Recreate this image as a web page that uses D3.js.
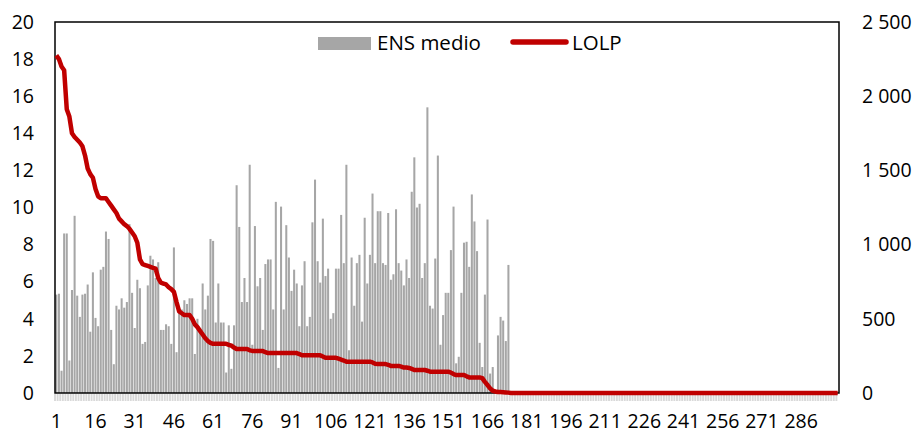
<!DOCTYPE html>
<html>
<head>
<meta charset="utf-8">
<script src="https://cdnjs.cloudflare.com/ajax/libs/d3/7.8.5/d3.min.js"></script>
<style>
  body { margin: 0; background: #fff; }
  text { font-family: "Open Sans", sans-serif; fill: #000; }
</style>
</head>
<body>
<div id="chart"></div>
<script>
// ENS medio (right axis), one value per case, sorted by LOLP
const ensMedio = [
  663, 669, 150, 1075, 1075, 219, 694, 1194, 656, 513,
  663, 669, 731, 413, 813, 506, 450, 831, 850, 1088,
  1038, 425, 194, 588, 563, 638, 575, 613, 1138, 675,
  438, 763, 706, 331, 344, 725, 925, 900, 775, 881,
  425, 425, 463, 450, 331, 981, 275, 550, 563, 625,
  600, 638, 638, 263, 500, 438, 738, 563, 656, 1038,
  1025, 475, 738, 475, 475, 138, 456, 163, 456, 1400,
  1119, 613, 775, 613, 1538, 325, 1125, 719, 775, 425,
  869, 900, 900, 563, 1288, 169, 1256, 563, 1131, 913,
  688, 831, 738, 450, 725, 888, 450, 513, 1150, 1438,
  888, 744, 1175, 788, 838, 500, 538, 838, 838, 1200,
  875, 1538, 288, 913, 588, 875, 931, 481, 1181, 738,
  931, 1344, 875, 1225, 1225, 875, 863, 1213, 763, 800,
  1238, 875, 825, 725, 900, 775, 1356, 1588, 1250, 1275,
  775, 875, 1925, 588, 569, 906, 1600, 325, 525, 675,
  675, 963, 1256, 200, 244, 675, 1013, 1019, 850, 1338,
  1156, 956, 338, 175, 663, 1169, 131, 175, 0, 388,
  513, 488, 350, 863,
  0, 0, 0, 0, 0, 0, 0, 0, 0, 0, 0, 0, 0, 0, 0, 0, 0, 0, 0, 0, 0,
  0, 0, 0, 0, 0, 0, 0, 0, 0, 0, 0, 0, 0, 0, 0, 0, 0, 0, 0, 0, 0,
  0, 0, 0, 0, 0, 0, 0, 0, 0, 0, 0, 0, 0, 0, 0, 0, 0, 0, 0, 0, 0,
  0, 0, 0, 0, 0, 0, 0, 0, 0, 0, 0, 0, 0, 0, 0, 0, 0, 0, 0, 0, 0,
  0, 0, 0, 0, 0, 0, 0, 0, 0, 0, 0, 0, 0, 0, 0, 0, 0, 0, 0, 0, 0,
  0, 0, 0, 0, 0, 0, 0, 0, 0, 0, 0, 0, 0, 0, 0, 0, 0, 0, 0, 0, 0
];

// LOLP (left axis)
const lolp = [
  18.2, 18.0, 17.6, 17.4, 15.3, 14.9, 14.0, 13.8, 13.65, 13.5,
  13.3, 12.8, 12.1, 11.8, 11.6, 11.0, 10.6, 10.5, 10.5, 10.5,
  10.3, 10.1, 9.9, 9.7, 9.4, 9.25, 9.1, 9.0, 8.85, 8.65,
  8.45, 8.1, 7.2, 6.95, 6.9, 6.85, 6.8, 6.75, 6.7, 6.2,
  5.95, 5.9, 5.85, 5.7, 5.6, 5.45, 4.9, 4.4, 4.3, 4.2,
  4.2, 4.2, 4.0, 3.7, 3.55, 3.35, 3.15, 2.95, 2.8, 2.7,
  2.65, 2.65, 2.65, 2.65, 2.65, 2.65, 2.6, 2.55, 2.45, 2.37,
  2.37, 2.37, 2.37, 2.37, 2.3, 2.27, 2.27, 2.27, 2.27, 2.27,
  2.2, 2.15, 2.15, 2.15, 2.15, 2.15, 2.15, 2.15, 2.15, 2.15,
  2.15, 2.15, 2.15, 2.1, 2.03, 2.03, 2.03, 2.03, 2.03, 2.03,
  2.03, 2.03, 1.97, 1.9, 1.9, 1.9, 1.9, 1.9, 1.85, 1.8,
  1.75, 1.69, 1.69, 1.69, 1.69, 1.69, 1.69, 1.69, 1.69, 1.69,
  1.69, 1.65, 1.58, 1.56, 1.56, 1.56, 1.56, 1.52, 1.46, 1.46,
  1.46, 1.46, 1.42, 1.37, 1.37, 1.35, 1.3, 1.24, 1.24, 1.24,
  1.24, 1.24, 1.2, 1.15, 1.15, 1.15, 1.15, 1.15, 1.15, 1.15,
  1.15, 1.1, 1.02, 0.97, 0.97, 0.97, 0.97, 0.9, 0.84, 0.84,
  0.84, 0.84, 0.84, 0.8, 0.6, 0.43, 0.25, 0.12, 0.08, 0.05,
  0.05, 0.04, 0.03, 0.02,
  0, 0, 0, 0, 0, 0, 0, 0, 0, 0, 0, 0, 0, 0, 0, 0, 0, 0, 0, 0, 0,
  0, 0, 0, 0, 0, 0, 0, 0, 0, 0, 0, 0, 0, 0, 0, 0, 0, 0, 0, 0, 0,
  0, 0, 0, 0, 0, 0, 0, 0, 0, 0, 0, 0, 0, 0, 0, 0, 0, 0, 0, 0, 0,
  0, 0, 0, 0, 0, 0, 0, 0, 0, 0, 0, 0, 0, 0, 0, 0, 0, 0, 0, 0, 0,
  0, 0, 0, 0, 0, 0, 0, 0, 0, 0, 0, 0, 0, 0, 0, 0, 0, 0, 0, 0, 0,
  0, 0, 0, 0, 0, 0, 0, 0, 0, 0, 0, 0, 0, 0, 0, 0, 0, 0, 0, 0, 0
];

const xTickLabels = [1, 16, 31, 46, 61, 76, 91, 106, 121, 136, 151, 166, 181, 196, 211, 226, 241, 256, 271, 286];
const leftTicks = [0, 2, 4, 6, 8, 10, 12, 14, 16, 18, 20];
const rightTicks = [0, 500, 1000, 1500, 2000, 2500];
const seriesNames = ["ENS medio", "LOLP"];

const W = 917, H = 434;
const plot = {left: 55, top: 22, right: 839, bottom: 393};
const cats = ensMedio.map((d, i) => i + 1);

const svg = d3.select('#chart').append('svg')
    .attr('width', W)
    .attr('height', H);

const x = d3.scaleBand()
    .domain(cats)
    .range([plot.left, plot.right])
    .paddingInner(0.22)
    .paddingOuter(0.11);
const yL = d3.scaleLinear().domain([0, 20]).range([plot.bottom, plot.top]);
const yR = d3.scaleLinear().domain([0, 2500]).range([plot.bottom, plot.top]);
const bw = x.bandwidth();

// light grey tick marks under the category axis
svg.append('g')
  .selectAll('line')
  .data(cats)
  .enter()
  .append('line')
    .attr('x1', d => x(d) + bw / 2 - x.step() / 2)
    .attr('x2', d => x(d) + bw / 2 - x.step() / 2)
    .attr('y1', plot.bottom + 1)
    .attr('y2', plot.bottom + 8)
    .attr('stroke', '#d9d9d9')
    .attr('stroke-width', 1.9);

// bars
svg.append('g')
  .selectAll('rect')
  .data(ensMedio)
  .enter()
  .append('rect')
    .attr('x', (d, i) => x(cats[i]))
    .attr('y', d => yR(d))
    .attr('width', bw)
    .attr('height', d => plot.bottom - yR(d))
    .attr('fill', '#a6a6a6');

// plot frame
svg.append('rect')
    .attr('x', plot.left)
    .attr('y', plot.top)
    .attr('width', plot.right - plot.left)
    .attr('height', plot.bottom - plot.top)
    .attr('fill', 'none')
    .attr('stroke', '#000')
    .attr('stroke-width', 1.5);

// LOLP line
let line = d3.line()
    .x((d, i) => x(cats[i]) + bw / 2)
    .y(d => yL(d));

svg.append('path')
    .datum(lolp)
    .attr('d', line)
    .attr('fill', 'none')
    .attr('stroke', '#c00000')
    .attr('stroke-width', 4.5)
    .attr('stroke-linejoin', 'round');

// axes
let fmt = d => d3.format(',')(d).replace(/,/g, ' ');

let leftAxis = svg.append('g')
    .attr('transform', 'translate(' + plot.left + ',0)')
    .call(d3.axisLeft(yL).tickValues(leftTicks).tickSize(0).tickPadding(21));
let rightAxis = svg.append('g')
    .attr('transform', 'translate(' + plot.right + ',0)')
    .call(d3.axisRight(yR).tickValues(rightTicks).tickSize(0).tickPadding(23).tickFormat(fmt));
let bottomAxis = svg.append('g')
    .attr('transform', 'translate(0,' + plot.bottom + ')')
    .call(d3.axisBottom(x).tickValues(xTickLabels).tickSize(0).tickPadding(21));

[leftAxis, rightAxis, bottomAxis].forEach(a => {
  a.select('.domain').remove();
  a.selectAll('text')
    .style('font-family', '"Open Sans", sans-serif')
    .attr('fill', '#000');
});
leftAxis.selectAll('text').style('font-size', '19.5px');
rightAxis.selectAll('text').style('font-size', '19.5px');
bottomAxis.selectAll('text').style('font-size', '19.5px');

// legend
let legend = svg.append('g');
legend.append('rect')
    .attr('x', 318)
    .attr('y', 37)
    .attr('width', 53)
    .attr('height', 13)
    .attr('fill', '#a6a6a6');
legend.append('text')
    .text(seriesNames[0])
    .attr('x', 377)
    .attr('y', 50)
    .style('font-size', '20.5px');
legend.append('line')
    .attr('x1', 513)
    .attr('x2', 566)
    .attr('y1', 42)
    .attr('y2', 42)
    .attr('stroke', '#c00000')
    .attr('stroke-width', 5.5)
    .attr('stroke-linecap', 'round');
legend.append('text')
    .text(seriesNames[1])
    .attr('x', 572)
    .attr('y', 50)
    .style('font-size', '20.5px');
</script>
</body>
</html>
